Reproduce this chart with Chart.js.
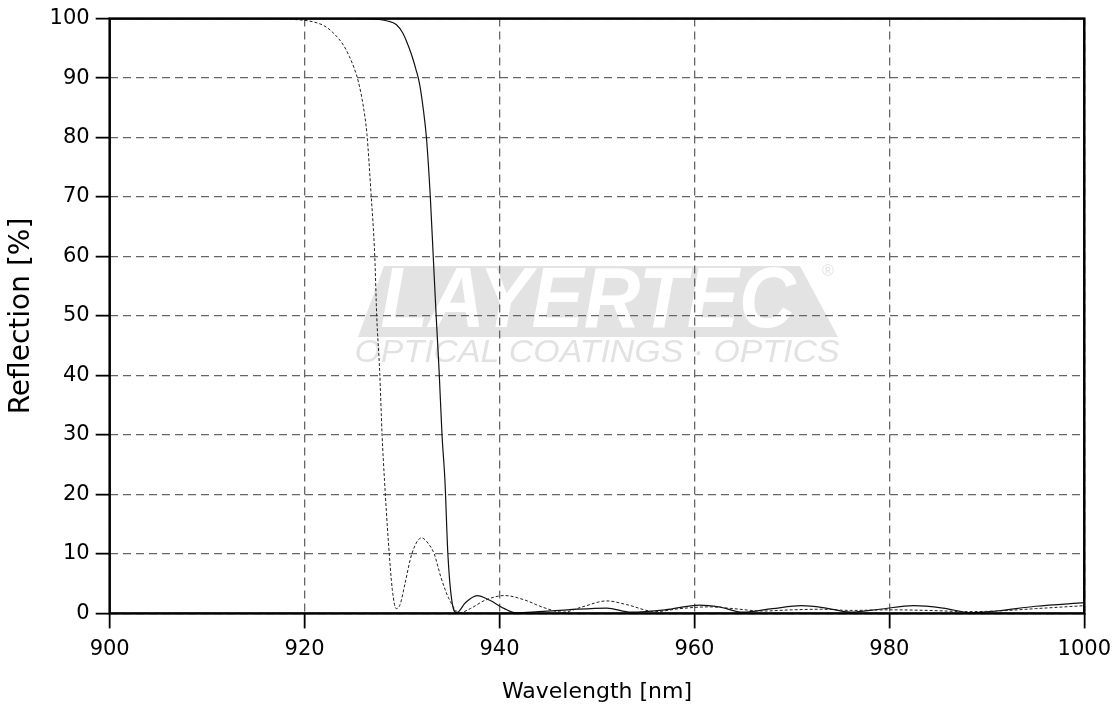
<!DOCTYPE html>
<html>
<head>
<meta charset="utf-8">
<script src="https://cdn.jsdelivr.net/npm/chart.js@4"></script>
<style>
  html, body { margin: 0; padding: 0; background: #fff; }
  #wrap { width: 1120px; height: 713px; }
</style>
</head>
<body>
<div id="wrap"><canvas id="chart"></canvas></div>
<script>
// dashed curve (left edge)
const wlDashed = [900, 915, 920, 921, 922, 923, 924, 924.6, 925.1, 925.5, 926, 926.4, 926.8, 927.2, 927.4, 927.7, 927.95, 928.2, 928.6, 929, 929.4, 929.8, 930.3, 931, 932, 932.8, 933.3, 934, 934.8, 935.9, 937, 938.5, 940.5, 942.5, 944.5, 946.5, 948.5, 951, 953, 956, 958.5, 961.5, 964, 967, 970, 973, 976, 980, 984, 988, 991, 995, 1000];
const rDashed = [100, 100, 99.7, 99.4, 98.8, 97.5, 95.5, 93.6, 91.6, 89.5, 85.5, 80.5, 71, 60, 50, 40.8, 30, 22.3, 12, 4, 0.8, 1.5, 5, 10, 12.7, 11.5, 10, 6, 2.5, 0.1, 0.8, 2.2, 3.0, 2.3, 1, 0.2, 1.1, 2.1, 1.5, 0.3, 0.8, 1.1, 0.8, 0.4, 0.6, 0.7, 0.5, 0.6, 0.5, 0.3, 0.4, 0.8, 1.3];

// solid curve (right edge)
const wlSolid = [900, 925, 927.2, 928.5, 929.4, 930.1, 930.6, 931, 931.4, 931.8, 932.2, 932.5, 932.9, 933.2, 933.5, 933.8, 934.1, 934.4, 934.7, 935.1, 935.6, 936.5, 937.7, 939, 940.5, 941.7, 944, 947, 951, 953.5, 957, 960.5, 962.5, 965, 968, 971, 973.5, 976, 979, 982.5, 985.5, 988.5, 991, 995, 1000];
const rSolid = [100, 100, 99.9, 99.6, 99, 97.5, 95.6, 93.8, 91.6, 89, 84.5, 80, 70, 60, 50, 40.8, 30, 22.3, 10, 2.2, 0.1, 1.8, 3.0, 2.2, 0.8, 0.1, 0.3, 0.6, 0.9, 0.2, 0.6, 1.4, 1.1, 0.2, 0.8, 1.3, 0.9, 0.2, 0.7, 1.3, 0.9, 0.1, 0.4, 1.2, 1.8];

const xTicks = [900, 920, 940, 960, 980, 1000];
const yTicks = [0, 10, 20, 30, 40, 50, 60, 70, 80, 90, 100];

const toPoints = (xs, ys) => xs.map((x, i) => ({ x: x, y: ys[i] }));

// fit a text line to a given width
function fitText(c, txt, cx, cy, w) {
  const m = c.measureText(txt).width;
  c.save();
  c.translate(cx, cy);
  c.scale(w / m, 1);
  c.fillText(txt, 0, 0);
  c.restore();
}

// watermark behind everything
const watermark = {
  id: "watermark",
  beforeDraw(chart) {
    const c = chart.ctx;
    c.save();
    c.fillStyle = "#e3e3e3";
    c.beginPath();
    c.moveTo(384, 266);
    c.lineTo(800, 266);
    c.lineTo(838, 337);
    c.lineTo(358, 337);
    c.closePath();
    c.fill();
    c.textAlign = "center";
    c.textBaseline = "middle";
    c.fillStyle = "#fff";
    c.font = "italic bold 86px 'Liberation Sans'";
    fitText(c, "LAYERTEC", 588, 303, 415);
    c.fillStyle = "#e2e2e2";
    c.font = "italic 31px 'Liberation Sans'";
    fitText(c, "OPTICAL COATINGS · OPTICS", 597, 353, 485);
    c.font = "16px 'Liberation Sans'";
    c.fillText("®", 828, 272);
    c.restore();
  }
};

// black frame round the plot
const frame = {
  id: "frame",
  afterDraw(chart) {
    const c = chart.ctx;
    const a = chart.chartArea;
    c.save();
    c.strokeStyle = "#000";
    c.lineWidth = 2.5;
    c.strokeRect(a.left, a.top, a.right - a.left, a.bottom - a.top);
    c.restore();
  }
};

const gridOpts = (len) => ({
  color: "#666",
  lineWidth: 1.3,
  drawTicks: true,
  tickLength: len,
  tickColor: "#000",
  tickWidth: 1.8,
  tickBorderDash: [],
});

const ctx = document.getElementById("chart").getContext("2d");

new Chart(ctx, {
  type: "line",
  data: {
    datasets: [
      {
        label: "dashed",
        data: toPoints(wlDashed, rDashed),
        borderColor: "#222",
        borderWidth: 1,
        borderDash: [3, 2],
        pointRadius: 0,
        cubicInterpolationMode: "monotone",
        fill: false,
      },
      {
        label: "solid",
        data: toPoints(wlSolid, rSolid),
        borderColor: "#111",
        borderWidth: 1.2,
        pointRadius: 0,
        cubicInterpolationMode: "monotone",
        fill: false,
      },
    ],
  },
  options: {
    responsive: true,
    maintainAspectRatio: false,
    animation: false,
    layout: { padding: { left: 5, right: 0, top: 0, bottom: 8 } },
    scales: {
      x: {
        type: "linear",
        min: 900,
        max: 1000,
        afterBuildTicks: s => { s.ticks = xTicks.map(v => ({ value: v })); },
        grid: gridOpts(15),
        border: { display: false, dash: [8, 5] },
        ticks: {
          color: "#000",
          padding: 9,
          maxRotation: 0,
          font: { family: "DejaVu Sans", size: 21 },
          callback: v => String(v),
        },
        title: {
          display: true,
          text: "Wavelength [nm]",
          color: "#000",
          padding: { top: 7, bottom: 0 },
          font: { family: "DejaVu Sans", size: 22 },
        },
      },
      y: {
        min: 0,
        max: 100,
        afterBuildTicks: s => { s.ticks = yTicks.map(v => ({ value: v })); },
        grid: gridOpts(14),
        border: { display: false, dash: [8, 5] },
        ticks: {
          color: "#000",
          padding: 6,
          font: { family: "DejaVu Sans", size: 21 },
          callback: v => String(v),
        },
        title: {
          display: true,
          text: "Reflection [%]",
          color: "#000",
          padding: { top: 0, bottom: 5 },
          font: { family: "DejaVu Sans", size: 28 },
        },
      },
    },
    plugins: {
      legend: { display: false },
      tooltip: { enabled: false },
    },
  },
  plugins: [watermark, frame],
});
</script>
</body>
</html>
